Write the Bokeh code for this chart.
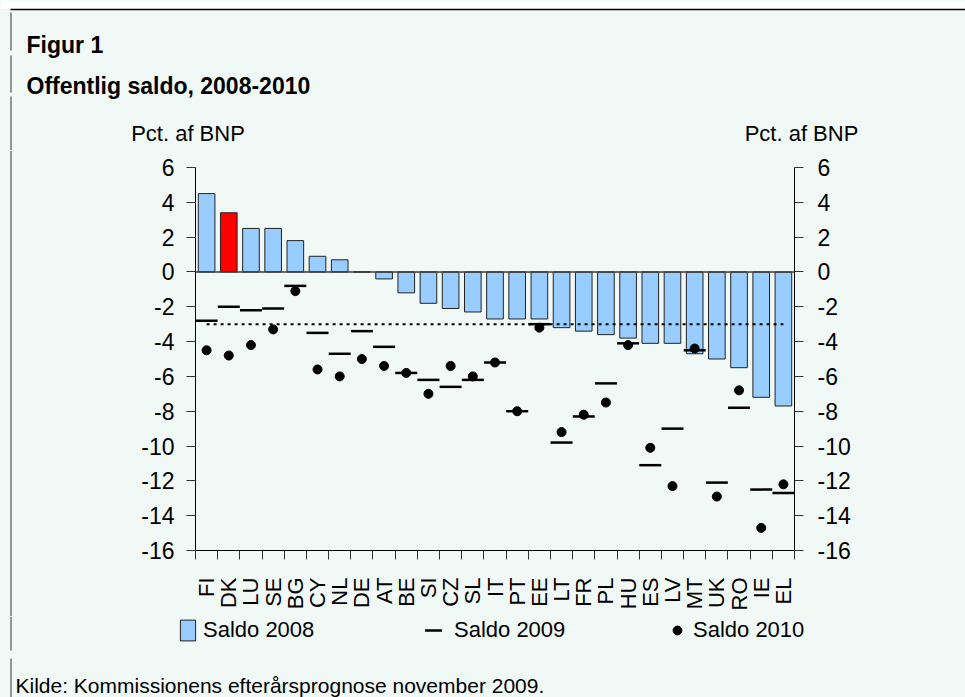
import math
from bokeh.plotting import figure
from bokeh.layouts import column, row
from bokeh.models import (Range1d, LinearAxis, FixedTicker, Span, Label, Legend,
                          LegendItem, Arrow, ColumnDataSource, BoxAnnotation)
from bokeh.embed import file_html
from bokeh.resources import INLINE

# ---------------- data ----------------
countries = ["FI", "DK", "LU", "SE", "BG", "CY", "NL", "DE", "AT", "BE", "SI", "CZ", "SL", "IT",
             "PT", "EE", "LT", "FR", "PL", "HU", "ES", "LV", "MT", "UK", "RO", "IE", "EL"]
saldo_2008 = [4.5, 3.4, 2.5, 2.5, 1.8, 0.9, 0.7, 0.0, -0.4, -1.2, -1.8, -2.1, -2.3, -2.7,
              -2.7, -2.7, -3.2, -3.4, -3.6, -3.8, -4.1, -4.1, -4.7, -5.0, -5.5, -7.2, -7.7]
saldo_2009 = [-2.8, -2.0, -2.2, -2.1, -0.8, -3.5, -4.7, -3.4, -4.3, -5.8, -6.2, -6.6, -6.2, -5.2,
              -8.0, -3.0, -9.8, -8.3, -6.4, -4.1, -11.1, -9.0, -4.5, -12.1, -7.8, -12.5, -12.7]
saldo_2010 = [-4.5, -4.8, -4.2, -3.3, -1.1, -5.6, -6.0, -5.0, -5.4, -5.8, -7.0, -5.4, -6.0, -5.2,
              -8.0, -3.2, -9.2, -8.2, -7.5, -4.2, -10.1, -12.3, -4.4, -12.9, -6.8, -14.7, -12.2]
highlight = "DK"
reference_level = -3.0
y_ticks = [-16, -14, -12, -10, -8, -6, -4, -2, 0, 2, 4, 6]
series_names = ["Saldo 2008", "Saldo 2009", "Saldo 2010"]
title_top = "Figur 1"
title_main = "Offentlig saldo, 2008-2010"
unit_label = "Pct. af BNP"
source_text = "Kilde: Kommissionens efterårsprognose november 2009."

# ---------------- styling ----------------
BG = "#F1F9F6"
BAR = "#99CCFF"
RED = "#FF0000"
BAR_LINE = "#222222"
FONT = "Liberation Sans"
W, H = 965, 697
TOP_H = 150
MAIN_H = 466
NAN = float("nan")


def blank_fig(width, height, y_top, y_bottom):
    """A figure whose frame is the whole canvas; data units = page pixels."""
    f = figure(width=width, height=height, x_range=Range1d(0, width),
               y_range=Range1d(y_bottom, y_top), output_backend="svg",
               toolbar_location=None, x_axis_location=None, y_axis_location=None,
               min_border=0)
    f.frame_align = False
    f.background_fill_color = BG
    f.border_fill_color = BG
    f.outline_line_color = None
    f.grid.visible = False
    return f


def add_text(f, txt, x, y, size, bold=False, align="left"):
    f.add_layout(Label(text=txt, x=x, y=y, text_font=FONT, text_font_size=size,
                       text_font_style="bold" if bold else "normal",
                       text_align=align, text_baseline="alphabetic", text_color="black"))


def add_rule(f, x0, y0, x1, y1, w=1.0, c="#333333"):
    f.add_layout(Arrow(start=None, end=None, x_start=x0, y_start=y0, x_end=x1, y_end=y1,
                       line_color=c, line_width=w))


# ---------------- top: titles ----------------
top = blank_fig(W, TOP_H, 0, TOP_H)
top.add_layout(BoxAnnotation(top=0, bottom=8.5, fill_color="white", fill_alpha=1,
                             line_color=None))
add_rule(top, 10, 9, W, 9, 1.5, "black")
add_rule(top, 10.5, 12, 10.5, 50)
add_rule(top, 10.5, 55, 10.5, 92)
add_rule(top, 10.5, 96, 10.5, TOP_H)
add_text(top, title_top, 26, 44, "23px", bold=True)
add_text(top, title_main, 26, 85, "23px", bold=True)
add_text(top, unit_label, 187.5, 133, "22px", align="center")
add_text(top, unit_label, 801, 133, "22px", align="center")

# ---------------- middle: chart ----------------
strip = blank_fig(100, MAIN_H, 0, MAIN_H)
strip.add_layout(Span(location=10.5, dimension="height", line_color="#333333", line_width=1))

n = len(countries)
pos = list(range(n))   # category index positions on the x scale
colors = [RED if c == highlight else BAR for c in countries]
src = ColumnDataSource(dict(x=pos, s08=saldo_2008, s09=saldo_2009, s10=saldo_2010, color=colors))

p = figure(x_range=Range1d(-0.5, n - 0.5), y_range=Range1d(y_ticks[0], y_ticks[-1]),
           width=W - 100, height=MAIN_H, output_backend="svg", toolbar_location=None,
           x_axis_location=None, min_border_left=95, min_border_right=171,
           min_border_top=17, min_border_bottom=MAIN_H - 17 - 383)
p.frame_align = False
p.background_fill_color = BG
p.border_fill_color = BG
p.outline_line_color = None
p.xgrid.visible = False
p.ygrid.visible = False

p.vbar(x="x", top="s08", width=0.75, source=src, fill_color="color",
       line_color=BAR_LINE, line_width=1)
p.add_layout(Span(location=0, dimension="width", line_color="#3a3a3a", line_width=1.5))
p.line(x=[pos[0], pos[-1]], y=[reference_level, reference_level],
       line_color="black", line_width=2, line_dash="3 4")
p.scatter(x="x", y="s09", source=src, marker="dash", size=22,
          line_color="black", line_width=2.5)
p.scatter(x="x", y="s10", source=src, marker="circle", size=9,
          fill_color="black", line_color="black")


def style_y(ax, standoff):
    ax.ticker = FixedTicker(ticks=y_ticks)
    ax.major_label_overrides = {t: str(t) for t in y_ticks}
    ax.major_tick_out = 9
    ax.major_tick_in = 0
    ax.minor_tick_out = 0
    ax.minor_tick_in = 0
    ax.axis_line_color = "black"
    ax.axis_line_width = 1
    ax.major_tick_line_color = "#333333"
    ax.major_label_text_font = FONT
    ax.major_label_text_font_size = "23px"
    ax.major_label_text_color = "black"
    ax.major_label_standoff = standoff


style_y(p.yaxis[0], 12)
right_axis = LinearAxis()
style_y(right_axis, 14)
p.add_layout(right_axis, "right")

x_axis = LinearAxis(ticker=FixedTicker(ticks=pos,
                                       minor_ticks=[i - 0.5 for i in range(n + 1)]),
                    major_label_overrides={i: c for i, c in zip(pos, countries)},
                    major_tick_out=0, major_tick_in=0,
                    minor_tick_out=9, minor_tick_in=0,
                    minor_tick_line_color="#333333",
                    axis_line_color="black",
                    major_label_standoff=18,
                    major_label_orientation=math.pi / 2,
                    major_label_text_font=FONT,
                    major_label_text_font_size="22px",
                    major_label_text_color="black")
p.add_layout(x_axis, "below")

# ---------------- bottom: legend + source ----------------
BOT_TOP = TOP_H + MAIN_H
bot = blank_fig(W, H - BOT_TOP, BOT_TOP, H)
add_rule(bot, 10.5, BOT_TOP, 10.5, 650)
add_rule(bot, 10.5, 658, 10.5, H)
add_text(bot, source_text, 15, 685, "21px")

# legend keys (styled like the chart glyphs; NaN coordinates draw nothing on the canvas)
key_bar = bot.vbar(x=[NAN], top=[NAN], width=1, fill_color=BAR, line_color=BAR_LINE, line_width=1)
key_dash = bot.scatter(x=[NAN], y=[NAN], marker="dash", size=22, line_color="black", line_width=2.5)
key_dot = bot.scatter(x=[NAN], y=[NAN], marker="circle", size=9, fill_color="black", line_color="black")

LEG_Y = 629.5   # vertical centre of the legend row (page px)


def make_legend(name, rend, left, gw, gh, standoff, item_h):
    return Legend(items=[LegendItem(label=name, renderers=[rend])],
                  location=(left, H - LEG_Y - item_h / 2),
                  orientation="horizontal", glyph_width=gw, glyph_height=gh,
                  label_standoff=standoff, label_text_font=FONT,
                  label_text_font_size="22px", label_text_color="black",
                  border_line_color=None, background_fill_alpha=0,
                  padding=0, margin=0, spacing=0)


bot.add_layout(make_legend(series_names[0], key_bar, 178, 19, 26, 6, 26))
bot.add_layout(make_legend(series_names[1], key_dash, 412, 42, 42, -6, 42))
bot.add_layout(make_legend(series_names[2], key_dot, 666, 22, 22, 5, 26))

layout = column(top, row(strip, p), bot, styles={"background-color": BG})
open("out.html", "w").write(file_html(layout, INLINE))
